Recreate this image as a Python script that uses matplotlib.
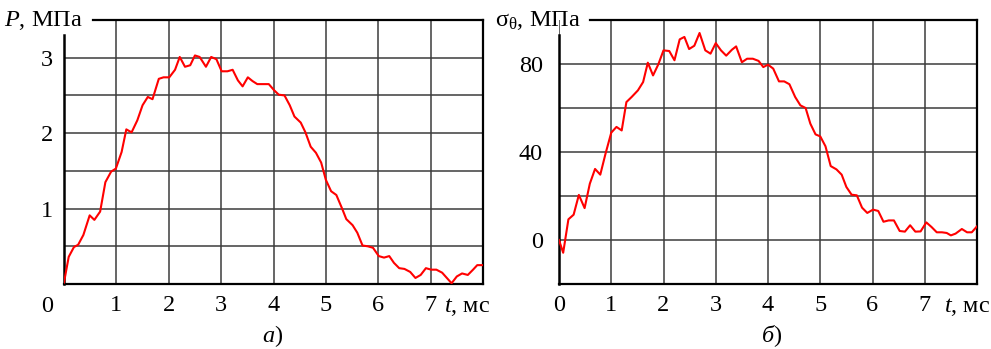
import matplotlib
matplotlib.use("Agg")
import matplotlib.pyplot as plt

plt.rcParams['font.family'] = ['Liberation Serif', 'DejaVu Serif']
plt.rcParams['mathtext.fontset'] = 'custom'
plt.rcParams['mathtext.rm'] = 'Liberation Serif'
plt.rcParams['mathtext.it'] = 'Liberation Serif:italic'

# ---- data: (a) pressure P, MPa vs t, ms
t_p = [0.0, 0.09, 0.19, 0.27, 0.37, 0.49, 0.58, 0.69, 0.79, 0.90, 0.99, 1.10, 1.19, 1.29,
       1.40, 1.50, 1.60, 1.69, 1.81, 1.90, 2.01, 2.12, 2.21, 2.31, 2.41, 2.50, 2.59, 2.71,
       2.81, 2.91, 3.01, 3.12, 3.22, 3.32, 3.41, 3.51, 3.60, 3.69, 3.91, 4.01, 4.10, 4.21,
       4.31, 4.40, 4.52, 4.61, 4.71, 4.81, 4.91, 5.00, 5.10, 5.20, 5.31, 5.39, 5.51, 5.60,
       5.70, 5.80, 5.90, 6.01, 6.11, 6.21, 6.30, 6.40, 6.50, 6.61, 6.71, 6.81, 6.91, 7.01,
       7.11, 7.22, 7.31, 7.40, 7.50, 7.60, 7.71, 7.81, 7.89, 8.0]
P = [0.02, 0.36, 0.49, 0.52, 0.65, 0.91, 0.85, 0.96, 1.35, 1.49, 1.53, 1.75, 2.05, 2.01,
     2.17, 2.37, 2.48, 2.45, 2.72, 2.74, 2.74, 2.84, 3.01, 2.88, 2.90, 3.03, 3.01, 2.88,
     3.01, 2.98, 2.82, 2.82, 2.84, 2.70, 2.62, 2.74, 2.69, 2.65, 2.65, 2.57, 2.51, 2.50,
     2.37, 2.22, 2.14, 2.01, 1.82, 1.74, 1.61, 1.38, 1.23, 1.18, 1.00, 0.86, 0.78, 0.68,
     0.51, 0.50, 0.48, 0.37, 0.35, 0.37, 0.28, 0.21, 0.20, 0.16, 0.08, 0.12, 0.21, 0.19,
     0.19, 0.15, 0.08, 0.01, 0.10, 0.14, 0.12, 0.19, 0.25, 0.25]

# ---- data: (б) hoop stress sigma_theta, MPa vs t, ms
t_s = [0.0, 0.08, 0.18, 0.28, 0.38, 0.49, 0.59, 0.69, 0.79, 0.89, 1.00, 1.10, 1.20, 1.29,
       1.39, 1.51, 1.61, 1.70, 1.80, 1.90, 2.00, 2.11, 2.21, 2.31, 2.40, 2.49, 2.59, 2.69,
       2.80, 2.90, 3.00, 3.10, 3.20, 3.31, 3.39, 3.50, 3.60, 3.71, 3.82, 3.91, 4.00, 4.10,
       4.21, 4.31, 4.41, 4.52, 4.62, 4.72, 4.81, 4.91, 5.00, 5.10, 5.20, 5.31, 5.41, 5.50,
       5.60, 5.70, 5.80, 5.90, 6.01, 6.11, 6.21, 6.31, 6.41, 6.52, 6.62, 6.72, 6.82, 6.92,
       7.03, 7.13, 7.23, 7.33, 7.42, 7.50, 7.59, 7.71, 7.81, 7.90, 8.0]
sigma = [0.0, -5.8, 9.4, 11.5, 20.5, 14.5, 25.6, 32.3, 29.7, 39.2, 48.8, 51.4, 49.8, 62.7,
         65.0, 68.0, 71.8, 80.6, 74.8, 79.8, 86.2, 85.9, 81.7, 91.2, 92.3, 86.8, 88.3, 94.1,
         86.2, 84.7, 89.5, 86.2, 83.8, 86.5, 88.0, 80.8, 82.4, 82.4, 81.4, 78.6, 79.7, 77.9,
         72.1, 72.1, 70.8, 65.0, 61.2, 60.0, 52.9, 48.0, 47.1, 42.6, 33.6, 32.1, 29.7, 24.1,
         20.6, 20.3, 14.7, 12.3, 13.8, 13.2, 8.3, 8.9, 8.9, 4.1, 3.8, 6.7, 3.8, 3.9,
         8.0, 5.9, 3.5, 3.5, 3.2, 2.1, 2.9, 5.0, 3.5, 3.5, 6.2]

x_ticks_a = [1, 2, 3, 4, 5, 6, 7]
x_labels_a = ['1', '2', '3', '4', '5', '6', '7']
y_ticks_a = [0.5, 1.0, 1.5, 2.0, 2.5, 3.0]
y_labels_a = ['', '1', '', '2', '', '3']
x_ticks_b = [0, 1, 2, 3, 4, 5, 6, 7]
x_labels_b = ['0', '1', '2', '3', '4', '5', '6', '7']
y_ticks_b = [0, 20, 40, 60, 80]
y_labels_b = ['0', '', '40', '', '80']

FS = 17.5
W, H = 991, 349
fig = plt.figure(figsize=(W / 100, H / 100), dpi=100)
ax1 = fig.add_axes([64 / W, 65 / H, 419 / W, 264 / H])
ax2 = fig.add_axes([559 / W, 65 / H, 418 / W, 264 / H])


def style(ax, xt, xl, yt, yl, ylim, ypad, top_start, ylabel, ylabel_x):
    ax.set_xlim(0, 8)
    ax.set_ylim(*ylim)
    ax.set_xticks(xt)
    ax.set_xticklabels(xl)
    ax.set_yticks(yt)
    ax.set_yticklabels(yl)
    ax.tick_params(axis='both', length=0, labelsize=FS)
    ax.tick_params(axis='x', pad=8.0)
    ax.tick_params(axis='y', pad=ypad)
    ax.grid(True, color='#3c3c3c', lw=1.1)
    ax.set_axisbelow(True)
    for s in ('top', 'left'):
        ax.spines[s].set_visible(False)
    for s in ('right', 'bottom'):
        ax.spines[s].set_linewidth(1.6)
    ax.plot([top_start, 1], [1, 1], transform=ax.transAxes, color='k', lw=1.6,
            clip_on=False, solid_capstyle='projecting')
    ax.plot([0, 0], [0, 0.943], transform=ax.transAxes, color='k', lw=1.8,
            clip_on=False, solid_capstyle='projecting')
    ax.text(ylabel_x, 1.0, ylabel, transform=ax.transAxes, ha='right', va='center',
            fontsize=FS)


style(ax1, x_ticks_a, x_labels_a, y_ticks_a, y_labels_a, (0, 3.5), 8,
      0.069, r'$P$, МПа', 0.045)
style(ax2, x_ticks_b, x_labels_b, y_ticks_b, y_labels_b, (-20, 100), 11.5,
      0.074, r'$\mathrm{\sigma_{\theta}}$, МПа', 0.053)

ax1.plot(t_p, P, color='#ff0000', lw=1.5, zorder=3)
ax2.plot(t_s, sigma, color='#ff0000', lw=1.5, zorder=3)

ax1.text(-0.0406, -0.044, '0', transform=ax1.transAxes, ha='center', va='top', fontsize=FS)
ax1.text(0.907, -0.044, r'$t$, мс', transform=ax1.transAxes, ha='left', va='top', fontsize=FS)
ax2.text(0.921, -0.044, r'$t$, мс', transform=ax2.transAxes, ha='left', va='top', fontsize=FS)

fig.text(273 / W, 7 / H, r'$а$)', ha='center', va='baseline', fontsize=FS)
fig.text(772 / W, 7 / H, r'$б$)', ha='center', va='baseline', fontsize=FS)

fig.savefig('out.png', dpi=100)
